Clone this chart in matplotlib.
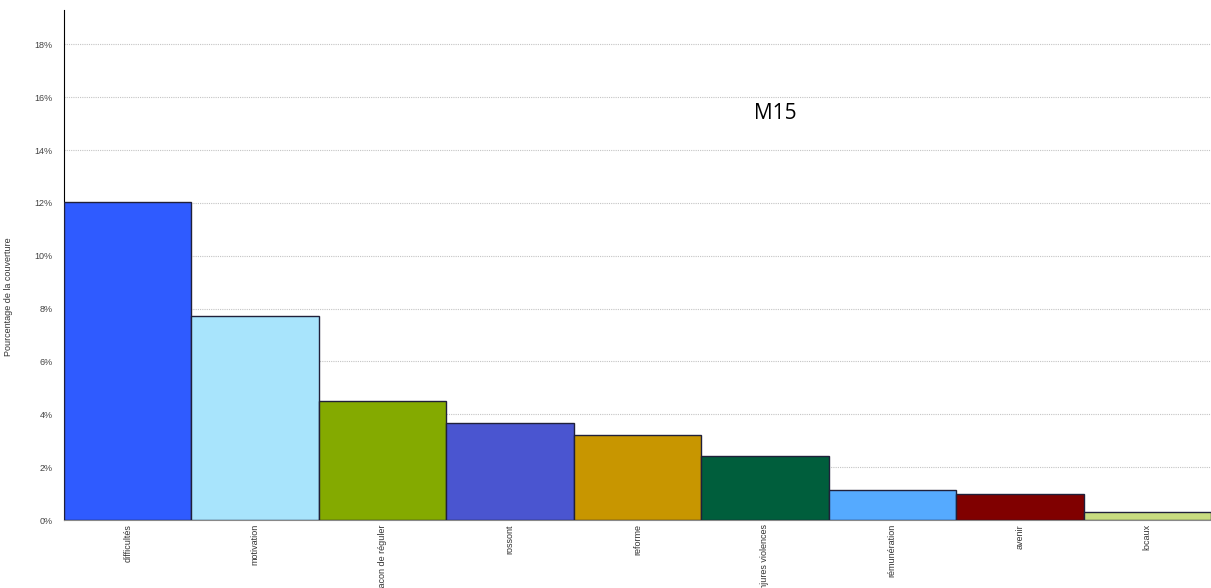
import numpy as np
import matplotlib
matplotlib.use("Agg")
import matplotlib.pyplot as plt
from matplotlib.ticker import FuncFormatter

# données
categories = ["difficultés", "motivation", "facon de réguler", "rossont", "reforme",
              "injures violences", "rémunération", "avenir", "locaux"]
valeurs = [12.05, 7.73, 4.5, 3.67, 3.22, 2.42, 1.14, 0.98, 0.30]
couleurs = ["#2F5BFF", "#A8E4FC", "#84AA00", "#4A55D0", "#C89600",
            "#005E3C", "#55AAFF", "#800000", "#C8DC80"]

plt.rcParams["font.family"] = ["Liberation Sans", "DejaVu Sans"]

fig = plt.figure(figsize=(12.11, 5.88), dpi=100)
ax = fig.add_axes([0.0528, 0.1156, 0.9472, 0.8674])

x = np.arange(len(categories))
ax.bar(x, valeurs, width=1.0, color=couleurs, edgecolor="#20203a", linewidth=1.0, zorder=3)

ax.set_xlim(-0.5, len(categories) - 0.5)
ax.set_ylim(0, 19.3)
ax.set_yticks(np.arange(0, 19, 2))
ax.yaxis.set_major_formatter(FuncFormatter(lambda v, p: f"{v:.0f}%"))
ax.grid(axis="y", linestyle=(0, (1, 1)), color="#c4c4c4", linewidth=0.8, zorder=0)

ax.set_xticks(x)
ax.set_xticklabels(categories, rotation=90, fontsize=6.5, color="#333333", va="top")
ax.tick_params(axis="x", length=0, pad=3)
ax.tick_params(axis="y", length=0, labelsize=6.5, labelcolor="#444444", pad=8)

for s in ["top", "right"]:
    ax.spines[s].set_visible(False)
ax.spines["left"].set_color("black")
ax.spines["bottom"].set_color("#888888")

ax.set_ylabel("Pourcentage de la couverture", fontsize=6.5, color="#333333")
ax.yaxis.set_label_coords(-0.0445, 0.437)

ax.text(5.08, 15.4, "M15", fontsize=15, family=["Open Sans", "DejaVu Sans"],
        ha="center", va="center", color="black")

fig.savefig("out.png", dpi=100)
